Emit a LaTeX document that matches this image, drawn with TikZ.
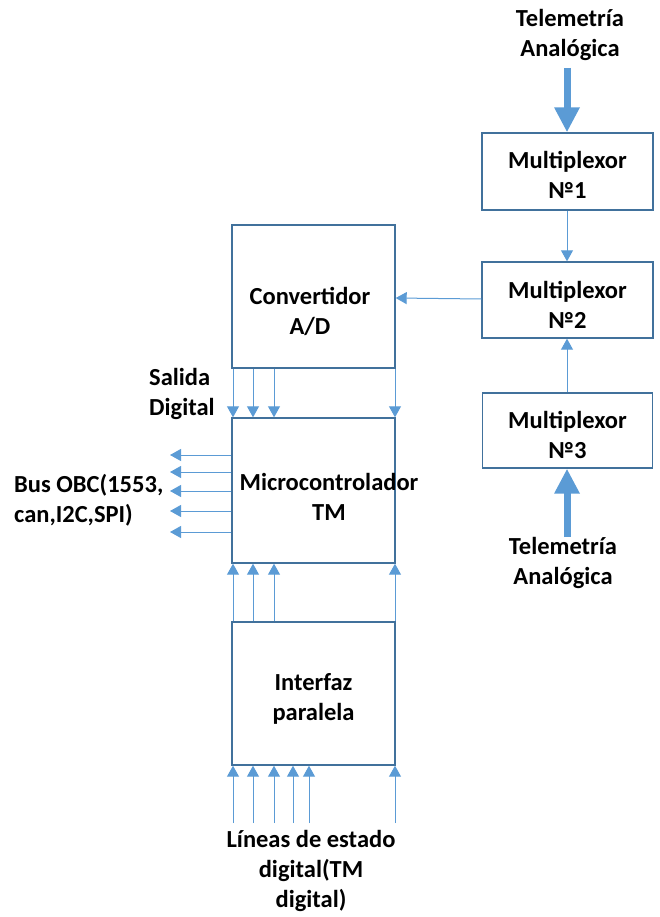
\documentclass[tikz,border=0pt]{standalone}
\usepackage{fontspec}
\setmainfont{Carlito}
\usetikzlibrary{arrows.meta}
\definecolor{boxline}{HTML}{41719C}
\definecolor{arrowblue}{HTML}{5B9BD5}
\tikzset{
  blk/.style={draw=boxline, line width=1.4pt, fill=white, inner sep=0pt},
  lbl/.style={font=\fontsize{24.5}{30}\selectfont\bfseries, align=center, inner sep=0pt},
  lblleft/.style={font=\fontsize{24.5}{30}\selectfont\bfseries, align=left, inner sep=0pt},
  arr/.style={draw=arrowblue, line width=1pt, -{Triangle[width=12pt,length=11pt]}},
  fat/.style={draw=arrowblue, line width=7pt, -{Triangle[width=24pt,length=25pt]}}
}
\begin{document}
\begin{tikzpicture}[x=1pt,y=-1pt]
\useasboundingbox (0,0) rectangle (660,917);

% blocks
\node[blk, minimum width=171pt, minimum height=77pt] (mux1) at (567.5,171.5) {};
\node[blk, minimum width=171pt, minimum height=76pt] (mux2) at (567.5,300) {};
\node[blk, minimum width=170pt, minimum height=75pt] (mux3) at (567.5,430.5) {};
\node[blk, minimum width=163pt, minimum height=143pt] (conv) at (313.5,296.5) {};
\node[blk, minimum width=163pt, minimum height=145pt] (mcu) at (313.5,490.5) {};
\node[blk, minimum width=163pt, minimum height=143pt] (intf) at (313.5,693.5) {};

% block captions
\node[lbl] (tmux1) at (567.5,175) {Multiplexor\\№1};
\node[lbl] (tmux2) at (567.5,305) {Multiplexor\\№2};
\node[lbl] (tmux3) at (567.5,435) {Multiplexor\\№3};
\node[lbl] (tconv) at (310,311) {Convertidor\\A/D};
\node[lbl] (tmcu) at (329,497) {Microcontrolador\\TM};
\node[lbl] (tintf) at (313.5,699) {Interfaz\\paralela};

% free labels
\node[lbl] (telup) at (570,35) {Telemetría\\Analógica};
\node[lbl] (teldn) at (563,563) {Telemetría\\Analógica};
\node[lblleft, anchor=west] (salida) at (149,394) {Salida\\Digital};
\node[lblleft, anchor=west] (bus) at (14,500) {Bus OBC(1553,\\can,I2C,SPI)};
\node[lbl] (lineas) at (311,871) {Líneas de estado\\digital(TM\\digital)};

% column positions of the parallel lines
\coordinate (c1) at (233,0);
\coordinate (c2) at (253,0);
\coordinate (c3) at (274,0);
\coordinate (c4) at (293,0);
\coordinate (c5) at (309,0);
\coordinate (c6) at (395,0);
\coordinate (cm) at (567,0);
\coordinate (low) at (0,823);
\coordinate (busend) at (170,0);
\coordinate (topstart) at (0,68);
\coordinate (botstart) at (0,537);

% analog telemetry inputs
\draw[fat] (topstart -| cm) -- (mux1.north -| cm);
\draw[fat] (botstart -| cm) -- (mux3.south -| cm);

% multiplexer chain
\draw[arr] (mux1.south -| cm) -- (mux2.north -| cm);
\draw[arr] (mux3.north -| cm) -- (mux2.south -| cm);
\draw[arr] (mux2.west) ++(0,-1) -- (conv.east |- 0,298);

% converter to microcontroller
\foreach \c in {c1,c2,c3,c6}
  \draw[arr] (conv.south -| \c) -- (mcu.north -| \c);

% parallel interface to microcontroller
\foreach \c in {c1,c2,c3,c6}
  \draw[arr] (intf.north -| \c) -- (mcu.south -| \c);

% digital status lines
\foreach \c in {c1,c2,c3,c4,c5,c6}
  \draw[arr] (low -| \c) -- (intf.south -| \c);

% OBC bus outputs
\foreach \y in {455,472,491,511,532}
  \draw[arr] (mcu.west |- 0,\y) -- (busend |- 0,\y);
\end{tikzpicture}
\end{document}
